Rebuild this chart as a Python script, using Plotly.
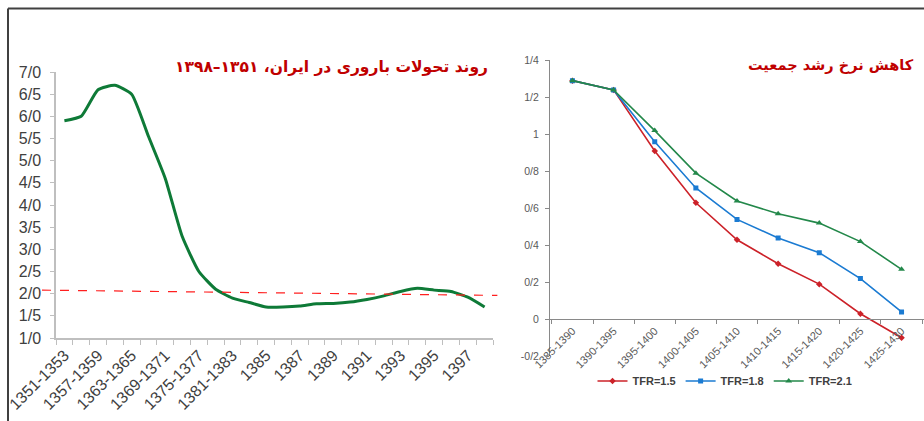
import plotly.graph_objects as go

# ---- left panel: total fertility rate in Iran, 1351-1398 ----
tfr_periods = ['1351-1353', '1354-1356', '1357-1359', '1360-1362', '1363-1365',
               '1366-1368', '1369-1371', '1372-1374', '1375-1377', '1378-1380',
               '1381-1383', '1384', '1385', '1386', '1387', '1388', '1389', '1390',
               '1391', '1392', '1393', '1394', '1395', '1396', '1397', '1398']
tfr_values = [5.9, 6.0, 6.6, 6.7, 6.5, 5.55, 4.6, 3.3, 2.5, 2.1, 1.9, 1.8, 1.7,
              1.7, 1.72, 1.77, 1.78, 1.81, 1.87, 1.95, 2.05, 2.12, 2.08, 2.05,
              1.92, 1.7]
replacement_line = [2.08, 1.96]  # red dashed line, left end / right end
tfr_yticks = [1.0, 1.5, 2.0, 2.5, 3.0, 3.5, 4.0, 4.5, 5.0, 5.5, 6.0, 6.5, 7.0]
tfr_yticklabels = ['1/0', '1/5', '2/0', '2/5', '3/0', '3/5', '4/0', '4/5',
                   '5/0', '5/5', '6/0', '6/5', '7/0']

# ---- right panel: population growth rate scenarios ----
growth_periods = ['1385-1390', '1390-1395', '1395-1400', '1400-1405', '1405-1410',
                  '1410-1415', '1415-1420', '1420-1425', '1425-1430']
growth_tfr15 = [1.29, 1.24, 0.91, 0.63, 0.43, 0.30, 0.19, 0.03, -0.10]
growth_tfr18 = [1.29, 1.24, 0.96, 0.71, 0.54, 0.44, 0.36, 0.22, 0.04]
growth_tfr21 = [1.29, 1.24, 1.02, 0.79, 0.64, 0.57, 0.52, 0.42, 0.27]
growth_yticks = [-0.2, 0, 0.2, 0.4, 0.6, 0.8, 1.0, 1.2, 1.4]
growth_yticklabels = ['-0/2', '0', '0/2', '0/4', '0/6', '0/8', '1', '1/2', '1/4']

W, H = 924, 421
TICK_FONT = 'Arial, Liberation Sans, sans-serif'
TITLE_RED = '#C00000'
AXIS_GRAY = '#BFBFBF'

fig = go.Figure()

# left chart
x_idx = list(range(len(tfr_periods)))
fig.add_trace(go.Scatter(
    x=x_idx, y=tfr_values, mode='lines',
    line=dict(color='#0E7A37', width=3, shape='spline', smoothing=0.5),
    showlegend=False, xaxis='x', yaxis='y'
))

# right chart
scenarios = [
    ('TFR=1.5', growth_tfr15, '#CC2229', 'diamond', 5),
    ('TFR=1.8', growth_tfr18, '#1B7BD2', 'square', 5),
    ('TFR=2.1', growth_tfr21, '#23884A', 'triangle-up', 6),
]
for name, vals, color, symbol, size in scenarios:
    fig.add_trace(go.Scatter(
        x=growth_periods, y=vals, mode='lines+markers', name=name,
        line=dict(color=color, width=1.6),
        marker=dict(color=color, symbol=symbol, size=size),
        xaxis='x2', yaxis='y2'
    ))

# domains (pixel positions converted to paper fractions)
left_x = [56 / W, 493 / W]
left_y = [1 - 338 / H, 1 - 72 / H]
right_x = [550 / W, 1.0]
right_y = [1 - 356.3 / H, 1 - 60.3 / H]
g_min, g_max = growth_yticks[0], growth_yticks[-1]
zero_pos = right_y[0] + (0 - g_min) / (g_max - g_min) * (right_y[1] - right_y[0])

fig.update_layout(
    width=W, height=H,
    margin=dict(l=0, r=0, t=0, b=0),
    paper_bgcolor='white', plot_bgcolor='white',
    xaxis=dict(
        domain=left_x, range=[-0.5, len(tfr_periods) - 0.5],
        tickmode='array', tickvals=x_idx[::2], ticktext=tfr_periods[::2],
        tickangle=-45, ticks='', showgrid=False, zeroline=False,
        showline=True, linecolor=AXIS_GRAY, linewidth=1.5,
        minor=dict(tickmode='linear', tick0=-0.5, dtick=1, ticks='outside',
                   ticklen=5, tickcolor=AXIS_GRAY, showgrid=False),
        tickfont=dict(family=TICK_FONT, size=16, color='#404040'),
        automargin=False, anchor='y'
    ),
    yaxis=dict(
        domain=left_y, range=[1, 7],
        tickmode='array', tickvals=tfr_yticks, ticktext=tfr_yticklabels,
        ticks='outside', ticklen=4, tickcolor=AXIS_GRAY,
        showgrid=False, zeroline=False,
        showline=True, linecolor=AXIS_GRAY, linewidth=1.5,
        tickfont=dict(family=TICK_FONT, size=16, color='#404040'),
        ticklabelstandoff=6, automargin=False, anchor='x'
    ),
    xaxis2=dict(
        domain=right_x, type='category', categoryarray=growth_periods,
        tickangle=-45, ticks='outside', ticklen=4, tickcolor='#898989',
        tickson='boundaries', showgrid=False, zeroline=False,
        showline=True, linecolor='#898989', linewidth=1,
        tickfont=dict(family=TICK_FONT, size=11, color='#595959'),
        automargin=False, anchor='free', position=zero_pos
    ),
    yaxis2=dict(
        domain=right_y, range=[g_min, g_max],
        tickmode='array', tickvals=growth_yticks, ticktext=growth_yticklabels,
        ticks='outside', ticklen=4, tickcolor='#898989',
        showgrid=False, zeroline=False,
        showline=True, linecolor='#898989', linewidth=1,
        tickfont=dict(family=TICK_FONT, size=10.5, color='#595959'),
        ticklabelstandoff=4, automargin=False, anchor='x2'
    ),
    legend=dict(
        orientation='h', x=725 / W, xanchor='center', y=1 - 381 / H, yanchor='middle',
        font=dict(family=TICK_FONT, size=11, color='#404040', weight='bold'),
        bgcolor='rgba(0,0,0,0)', itemwidth=30, tracegroupgap=0
    ),
    shapes=[
        # replacement-level reference line on the left chart
        dict(type='line', xref='x domain', yref='y',
             x0=-0.032, x1=1.01, y0=replacement_line[0], y1=replacement_line[1],
             line=dict(color='#FF2020', width=1.2, dash='dash')),
        # slide frame
        dict(type='line', xref='paper', yref='paper',
             x0=8 / W, x1=1, y0=1 - 8.5 / H, y1=1 - 8.5 / H,
             line=dict(color='#404040', width=2)),
        dict(type='line', xref='paper', yref='paper',
             x0=8 / W, x1=8 / W, y0=0, y1=1 - 8.5 / H,
             line=dict(color='#404040', width=2)),
    ],
    annotations=[
        dict(text='<b>روند تحولات باروری در ایران، ۱۳۵۱–۱۳۹۸</b>',
             xref='paper', yref='paper', x=490 / W, y=1 - 67 / H,
             xanchor='right', yanchor='middle', showarrow=False,
             font=dict(family='DejaVu Sans', size=15.5, color=TITLE_RED)),
        dict(text='<b>کاهش نرخ رشد جمعیت</b>',
             xref='paper', yref='paper', x=916 / W, y=1 - 66 / H,
             xanchor='right', yanchor='middle', showarrow=False,
             font=dict(family='DejaVu Sans', size=14.5, color=TITLE_RED)),
    ],
)

# the page's default body margin would shift the figure by 8px
fig.write_html('out.html', config={'displayModeBar': False},
               post_script="document.body.style.margin='0';")
